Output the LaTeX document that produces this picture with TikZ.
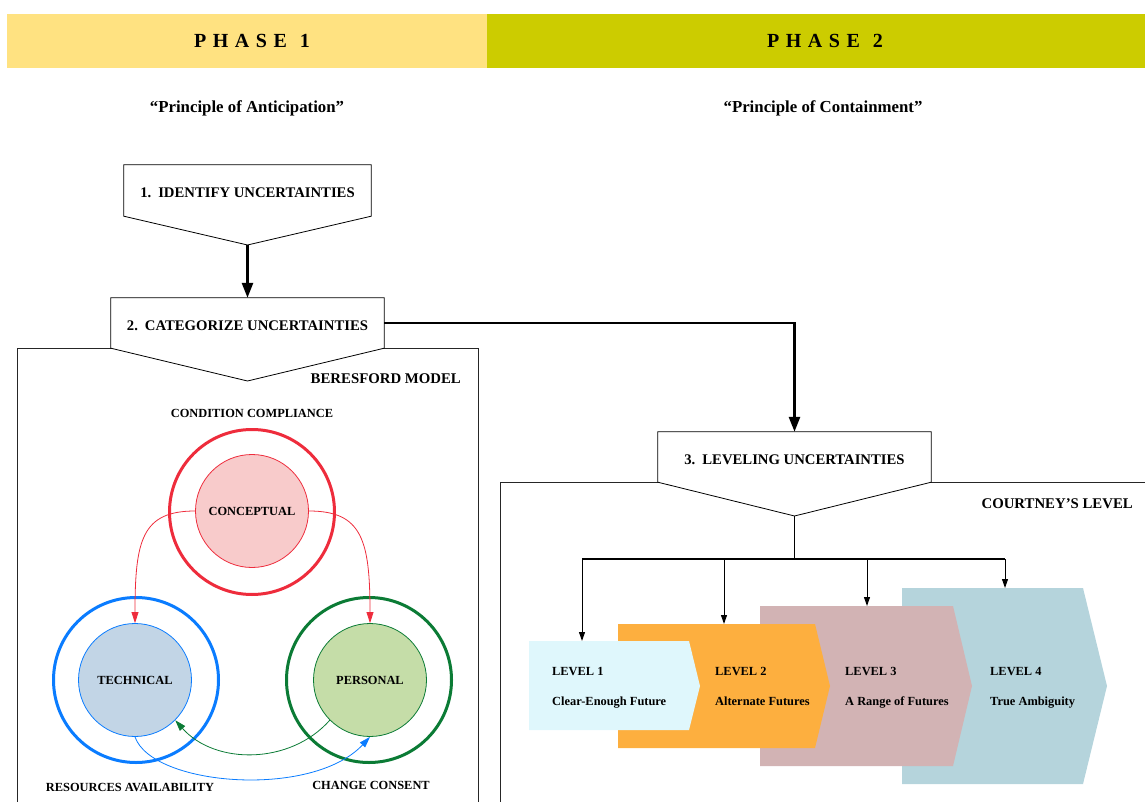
\documentclass[tikz,border=0pt]{standalone}
\usepackage{fontspec}
\setmainfont{Liberation Serif}
\usetikzlibrary{arrows.meta}
\pgfdeclarelayer{bg}
\pgfsetlayers{bg,main}
\definecolor{phone}{HTML}{FFE281}
\definecolor{phtwo}{HTML}{CCCC00}
\definecolor{cred}{HTML}{EE2C3C}
\definecolor{cpink}{HTML}{F8CBCB}
\definecolor{cblue}{HTML}{0A7CFF}
\definecolor{cblfill}{HTML}{C2D5E6}
\definecolor{cgreen}{HTML}{0B7B35}
\definecolor{cgrfill}{HTML}{C5DDA8}
\definecolor{lvone}{HTML}{DFF7FC}
\definecolor{lvtwo}{HTML}{FDAF3F}
\definecolor{lvthree}{HTML}{D2B3B4}
\definecolor{lvfour}{HTML}{B5D4DC}
\newcommand\myfs[1]{\fontsize{#1}{#1}\selectfont\bfseries}
\begin{document}
\begin{tikzpicture}[x=1pt,y=-1pt,
  txt/.style={inner sep=0pt, font=\myfs{#1}},
  boxtxt/.style={inner sep=0pt, font=\myfs{14.7}, text height=15pt, text depth=0pt},
  pent/.style={fill=white, draw=black, line width=0.8pt},
  frameline/.style={draw=black!85, line width=0.8pt},
  bigarrow/.style={line width=2.6pt, -{Triangle[length=15pt,width=11pt]}},
  smallarrow/.style={line width=1pt, -{Triangle[length=9pt,width=6pt]}},
  carrow/.style={line width=0.8pt, -{Triangle[length=11pt,width=7pt]}},
  incirc/.style={circle, minimum size=113pt, line width=0.8pt, inner sep=0pt, font=\myfs{12.4}},
  outcirc/.style={circle, minimum size=165pt, line width=3pt, inner sep=0pt},
]
\useasboundingbox (0,0) rectangle (1145,802);

% phase bars
\fill[phone] (7,14) rectangle (487,68);
\fill[phtwo] (487,14) rectangle (1145,68);
\node[txt=20] (phonet) at (252,41) {P\hspace{6.5pt}H\hspace{6.5pt}A\hspace{6.5pt}S\hspace{6.5pt}E\hspace{13pt}1};
\node[txt=20] (phtwot) at (825,41) {P\hspace{6.5pt}H\hspace{6.5pt}A\hspace{6.5pt}S\hspace{6.5pt}E\hspace{13pt}2};
\node[txt=16.8] (prone) at (247,108) {“Principle of Anticipation”};
\node[txt=16.8] (prtwo) at (823,108) {“Principle of Containment”};

% step boxes
\node[boxtxt, minimum width=247pt, minimum height=51pt] (b1) at (247.5,190.5) {1.\hspace{7pt}IDENTIFY UNCERTAINTIES};
\coordinate (b1tip) at (247.5,245);
\node[boxtxt, minimum width=273pt, minimum height=50pt] (b2) at (247.5,323) {2.\hspace{7pt}CATEGORIZE UNCERTAINTIES};
\coordinate (b2tip) at (247.5,381);
\node[boxtxt, minimum width=273pt, minimum height=50pt] (b3) at (794.5,457) {3.\hspace{7pt}LEVELING UNCERTAINTIES};
\coordinate (b3tip) at (794.5,516);

\begin{pgfonlayer}{bg}
\draw[frameline] (17,806) -- (17,348) -- (478,348) -- (478,806);
\draw[frameline] (500,806) -- (500,482) -- (1146,482);
\foreach \b in {b1,b2,b3}{
  \draw[pent] (\b.north west) -- (\b.north east) -- (\b.south east) -- (\b tip) -- (\b.south west) -- cycle;
}
\end{pgfonlayer}

\draw[bigarrow] (b1tip) -- (b2.north);
\draw[bigarrow] (b2.east) -| (b3.north);

% frame titles
\node[txt=14.8, anchor=east] (bm) at (461,379) {BERESFORD MODEL};
\node[txt=14.8, anchor=east] (cl) at (1133,504) {COURTNEY’S LEVEL};

% Beresford circles
\node[outcirc, draw=cred] (conO) at (252,512) {};
\node[incirc, draw=cred, fill=cpink] (con) at (252,511) {CONCEPTUAL};
\node[outcirc, draw=cblue] (tecO) at (136,680) {};
\node[incirc, draw=cblue, fill=cblfill] (tec) at (135,680) {TECHNICAL};
\node[outcirc, draw=cgreen] (perO) at (369,680) {};
\node[incirc, draw=cgreen, fill=cgrfill] (per) at (370,680) {PERSONAL};

\node[txt=12.4] (cc) at (252,413) {CONDITION COMPLIANCE};
\node[txt=12.4] (ra) at (130,787) {RESOURCES AVAILABILITY};
\node[txt=12.4] (cs) at (371,785) {CHANGE CONSENT};

\draw[carrow, cred] (con.west) .. controls (142,511) and (135,540) .. (tec.north);
\draw[carrow, cred] (con.east) .. controls (362,511) and (370,540) .. (per.north);
\draw[carrow, cgreen] (per.225) .. controls (290,765) and (215,765) .. (tec.-45);
\draw[carrow, cblue] (tec.south) .. controls (152,786) and (312,799) .. (per.south);

% Courtney levels
\fill[lvfour] (902,588) -- (1083,588) -- (1107,686) -- (1083,784) -- (902,784) -- cycle;
\fill[lvthree] (760,606) -- (953,606) -- (972,686) -- (953,766) -- (760,766) -- cycle;
\fill[lvtwo] (618,624) -- (815,624) -- (830,686) -- (815,748) -- (618,748) -- cycle;
\fill[lvone] (529,641) -- (689,641) -- (700,686) -- (689,730) -- (529,730) -- cycle;

\node[txt=12.4, anchor=base west] (lonea) at (552,675) {LEVEL 1};
\node[txt=12.4, anchor=base west] (loneb) at (552,705) {Clear-Enough Future};
\node[txt=12.4, anchor=base west] (ltwoa) at (715,675) {LEVEL 2};
\node[txt=12.4, anchor=base west] (ltwob) at (715,705) {Alternate Futures};
\node[txt=12.4, anchor=base west] (lthreea) at (845,675) {LEVEL 3};
\node[txt=12.4, anchor=base west] (lthreeb) at (845,705) {A Range of Futures};
\node[txt=12.4, anchor=base west] (lfoura) at (990,675) {LEVEL 4};
\node[txt=12.4, anchor=base west] (lfourb) at (990,705) {True Ambiguity};

\coordinate (branch) at (794.5,559);
\coordinate (h1) at (582,559);
\coordinate (h2) at (724,559);
\coordinate (h3) at (867,559);
\coordinate (h4) at (1005,559);
\coordinate (l1top) at (582,641);
\coordinate (l2top) at (724,624);
\coordinate (l3top) at (867,606);
\coordinate (l4top) at (1005,588);
\draw[line width=1.4pt] (b3tip) -- (branch);
\draw[line width=1.1pt] (h1) -- (h4);
\draw[smallarrow] (h1) -- (l1top);
\draw[smallarrow] (h2) -- (l2top);
\draw[smallarrow] (h3) -- (l3top);
\draw[smallarrow] (h4) -- (l4top);
\end{tikzpicture}
\end{document}
